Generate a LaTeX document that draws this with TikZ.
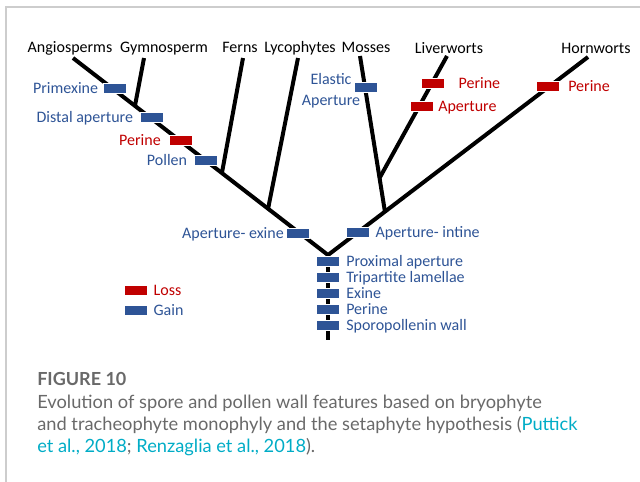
\documentclass[tikz,border=0pt]{standalone}
\usepackage{fontspec}
\setmainfont{Carlito}
\newfontfamily\capfont{Lato}
\usetikzlibrary{positioning,calc}
\definecolor{gainblue}{RGB}{46,84,150}
\definecolor{lossred}{RGB}{192,0,0}
\definecolor{capgray}{RGB}{105,105,105}
\definecolor{citecyan}{RGB}{0,172,198}
\definecolor{framegray}{RGB}{205,205,205}

\begin{document}
\begin{tikzpicture}[x=0.75pt,y=-0.75pt,
  gain/.style={fill=gainblue,draw=white,line width=0.5pt,minimum width=17.5pt,
               minimum height=7.5pt,inner sep=0pt},
  loss/.style={gain,fill=lossred},
  lab/.style={font=\fontsize{12}{14}\selectfont,inner sep=0pt},
  taxon/.style={lab,anchor=base},
  glab/.style={lab,text=gainblue,text height=8pt,text depth=0pt},
  llab/.style={glab,text=lossred},
  branch/.style={line width=3pt},
  caption/.style={font=\capfont\fontsize{13.7}{16.5}\selectfont,text=capgray,
                  inner sep=0pt,anchor=base west,align=left}]
  \useasboundingbox (0,0) rectangle (640,482);
  \draw[framegray,line width=0.8pt] (6,482) -- (6,7) -- (640,7);

  \coordinate (angio) at (73,58);
  \coordinate (gymno) at (144,58);
  \coordinate (ferns) at (243,58);
  \coordinate (lyco) at (298,58);
  \coordinate (moss) at (360,56);
  \coordinate (liver) at (447,56);
  \coordinate (horn) at (588,57);
  \coordinate (fork) at (328,255);
  \coordinate (base) at (328,340);
  \coordinate (jgym) at ($(angio)!0.243!(fork)$);
  \coordinate (jfern) at ($(angio)!0.584!(fork)$);
  \coordinate (jlyco) at ($(angio)!0.765!(fork)$);
  \coordinate (jmoss) at ($(horn)!0.781!(fork)$);
  \coordinate (jliv) at ($(moss)!0.784!(jmoss)$);

  \draw[branch] (angio) -- (fork) -- (horn);
  \draw[branch] (gymno) -- (jgym);
  \draw[branch] (ferns) -- (jfern);
  \draw[branch] (lyco) -- (jlyco);
  \draw[branch] (moss) -- (jmoss);
  \draw[branch] (liver) -- (jliv);
  \draw[branch] (fork) -- (base);

  \node[taxon] (angiolab) at (70,52) {Angiosperms};
  \node[taxon] (gymnolab) at (164,52) {Gymnosperm};
  \node[taxon] (fernslab) at (240,52) {Ferns};
  \node[taxon] (lycolab) at (300,52) {Lycophytes};
  \node[taxon] (mosslab) at (366,52) {Mosses};
  \node[taxon] (liverlab) at (449,53) {Liverworts};
  \node[taxon] (hornlab) at (596,53) {Hornworts};

  \node[gain] (primexine) at (115,88) {};
  \node[glab,left=3.5pt of primexine] (primexinelab) {Primexine};
  \node[gain] (distal) at (152,117) {};
  \node[glab,left=5pt of distal] (distallab) {Distal aperture};
  \node[loss] (perineang) at (181,140) {};
  \node[llab,left=6pt of perineang] (perineanglab) {Perine};
  \node[gain] (pollen) at (206,160) {};
  \node[glab,left=5pt of pollen] (pollenlab) {Pollen};
  \node[gain] (apexine) at (298,233) {};
  \node[glab,left=1.5pt of apexine] (apexinelab) {Aperture- exine};
  \node[gain] (apintine) at (358,232) {};
  \node[glab,right=4pt of apintine] (apintinelab) {Aperture- intine};

  \node[gain] (elastic) at (366,87) {};
  \node[lab,text=gainblue,align=center,font=\fontsize{12}{15.75}\selectfont]
    (elasticlab) at (331,91) {Elastic\\Aperture};
  \node[loss] (perineliv) at (433,83) {};
  \node[llab,right=10pt of perineliv] (perinelivlab) {Perine};
  \node[loss] (apliv) at (422,106) {};
  \node[llab,right=3pt of apliv] (aplivlab) {Aperture};
  \node[loss] (perinehorn) at (548,86) {};
  \node[llab,right=6pt of perinehorn] (perinehornlab) {Perine};

  \node[gain] (proximal) at (328,261) {};
  \node[glab,right=4.5pt of proximal] (proximallab) {Proximal aperture};
  \node[gain] (tripartite) at (328,277) {};
  \node[glab,right=4.5pt of tripartite] (tripartitelab) {Tripartite lamellae};
  \node[gain] (exine) at (328,293) {};
  \node[glab,right=4.5pt of exine] (exinelab) {Exine};
  \node[gain] (perinebase) at (328,309) {};
  \node[glab,right=4.5pt of perinebase] (perinebaselab) {Perine};
  \node[gain] (sporo) at (328,325) {};
  \node[glab,right=4.5pt of sporo] (sporolab) {Sporopollenin wall};

  \node[loss] (losskey) at (136,290) {};
  \node[llab,right=4pt of losskey] (losslab) {Loss};
  \node[gain] (gainkey) at (136,310) {};
  \node[glab,right=4pt of gainkey] (gainlab) {Gain};

  \node[caption,font=\capfont\bfseries\fontsize{13.5}{16.5}\selectfont] (figno) at (37,385) {FIGURE 10};
  \node[caption] (captext) at (37,452) {Evolution of spore and pollen wall features based on bryophyte\\
    and tracheophyte monophyly and the setaphyte hypothesis (\textcolor{citecyan}{Puttick}\\
    \textcolor{citecyan}{et al., 2018}; \textcolor{citecyan}{Renzaglia et al., 2018}).};
\end{tikzpicture}
\end{document}
